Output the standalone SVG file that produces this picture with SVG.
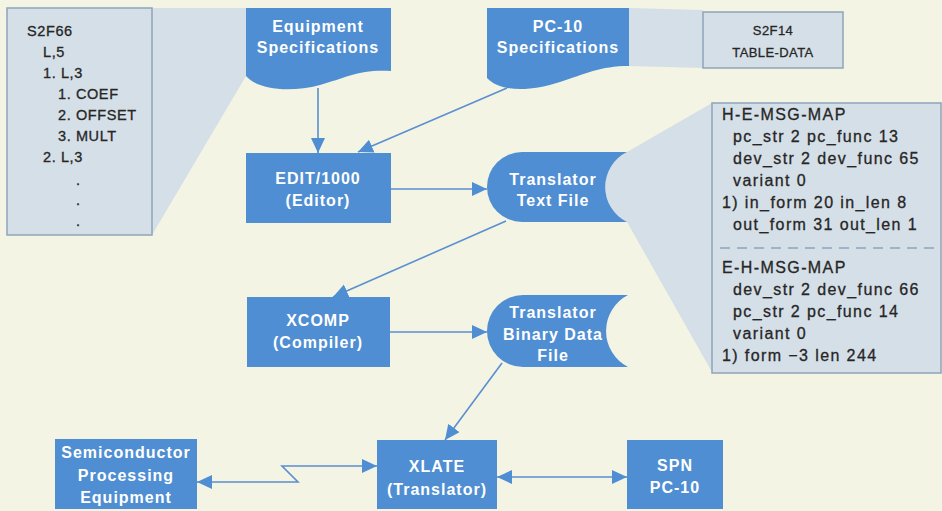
<svg xmlns="http://www.w3.org/2000/svg" width="942" height="511" viewBox="0 0 942 511">
<style>
.bg{fill:#f3f4e4}
.blue{fill:#4f8ed2}
.lt{fill:#d5dfe7}
.panel{fill:#d5dfe7;stroke:#8fa4ba;stroke-width:1.5}
.wt{font-family:"Liberation Sans",Arial,sans-serif;font-weight:bold;font-size:16px;fill:#ffffff;text-anchor:middle;letter-spacing:1px}
.dk{font-family:"Liberation Sans",Arial,sans-serif;font-size:16px;fill:#262626;stroke:#262626;stroke-width:0.3;letter-spacing:1.4px}
.sm{font-size:14.5px;letter-spacing:0.6px}
.ctr{text-anchor:middle;font-size:13px;letter-spacing:0.4px}
.conn{stroke:#5a8fd0;stroke-width:1.6;fill:none}
</style>
<defs>
<marker id="ah" markerUnits="userSpaceOnUse" markerWidth="16" markerHeight="15" refX="15" refY="7" orient="auto-start-reverse">
<path d="M0,0 L15,7 L0,14 Z" fill="#4f8ed2"/>
</marker>
</defs>
<rect class="bg" x="0" y="0" width="942" height="511"/>

<g id="callouts">
<polygon class="lt" points="152,8 246,8 246,76 152,235"/>
<polygon class="lt" points="629,8 703,10 703,68 629,66"/>
<path class="lt" d="M627,152 A39,39 0 0 0 627,222 L712,372 L712,103 Z"/>
</g>

<g id="s2f66">
<rect class="panel" x="7" y="8" width="145" height="227"/>
<text class="dk sm" x="27" y="36">S2F66</text>
<text class="dk sm" x="43" y="57">L,5</text>
<text class="dk sm" x="43" y="78">1. L,3</text>
<text class="dk sm" x="58" y="99">1. COEF</text>
<text class="dk sm" x="58" y="120">2. OFFSET</text>
<text class="dk sm" x="58" y="141">3. MULT</text>
<text class="dk sm" x="43" y="162">2. L,3</text>
<text class="dk sm" x="76" y="185">.</text>
<text class="dk sm" x="76" y="205">.</text>
<text class="dk sm" x="76" y="226">.</text>
</g>

<g id="s2f14">
<rect class="panel" x="703" y="12" width="140" height="56"/>
<text class="dk ctr" x="773" y="35">S2F14</text>
<text class="dk ctr" x="773" y="57">TABLE-DATA</text>
</g>

<g id="msgmap">
<rect class="panel" x="712" y="103" width="229" height="270"/>
<text class="dk" x="722" y="120">H-E-MSG-MAP</text>
<text class="dk" x="733" y="142">pc_str 2 pc_func 13</text>
<text class="dk" x="733" y="164">dev_str 2 dev_func 65</text>
<text class="dk" x="733" y="186">variant 0</text>
<text class="dk" x="722" y="208">1) in_form 20 in_len 8</text>
<text class="dk" x="733" y="230">out_form 31 out_len 1</text>
<line x1="720" y1="248" x2="941" y2="248" stroke="#8fa4ba" stroke-width="1.5" stroke-dasharray="10,7"/>
<text class="dk" x="722" y="273">E-H-MSG-MAP</text>
<text class="dk" x="733" y="295">dev_str 2 dev_func 66</text>
<text class="dk" x="733" y="317">pc_str 2 pc_func 14</text>
<text class="dk" x="733" y="339">variant 0</text>
<text class="dk" x="722" y="361">1) form −3 len 244</text>
</g>

<g id="equipment-specs">
<path class="blue" d="M246,8 H391 V71 C360,69 345,78 320,85 C290,93 258,90 246,76 Z"/>
<text class="wt" x="318" y="32">Equipment</text>
<text class="wt" x="318" y="53">Specifications</text>
</g>

<g id="pc10-specs">
<path class="blue" d="M487,8 H629 V66 C600,66 585,74 560,82 C530,92 500,92 487,78 Z"/>
<text class="wt" x="558" y="32">PC-10</text>
<text class="wt" x="558" y="53">Specifications</text>
</g>

<g id="edit">
<rect class="blue" x="246" y="153" width="145" height="70"/>
<text class="wt" x="318" y="184">EDIT/1000</text>
<text class="wt" x="318" y="206">(Editor)</text>
</g>

<g id="text-file">
<path class="blue" d="M522,152 H627 A39,39 0 0 0 627,222 H522 A35,35 0 0 1 522,152 Z"/>
<text class="wt" x="553" y="185">Translator</text>
<text class="wt" x="553" y="206">Text File</text>
</g>

<g id="xcomp">
<rect class="blue" x="247" y="297" width="143" height="70"/>
<text class="wt" x="318" y="326">XCOMP</text>
<text class="wt" x="318" y="348">(Compiler)</text>
</g>

<g id="binary-file">
<path class="blue" d="M523,295 H628 A40.5,40.5 0 0 0 628,367 H523 A36,36 0 0 1 523,295 Z"/>
<text class="wt" x="553" y="318">Translator</text>
<text class="wt" x="553" y="340">Binary Data</text>
<text class="wt" x="553" y="361">File</text>
</g>

<g id="semi">
<rect class="blue" x="55" y="439" width="142" height="70"/>
<text class="wt" x="126" y="458">Semiconductor</text>
<text class="wt" x="126" y="481">Processing</text>
<text class="wt" x="126" y="503">Equipment</text>
</g>

<g id="xlate">
<rect class="blue" x="377" y="440" width="120" height="69"/>
<text class="wt" x="437" y="472">XLATE</text>
<text class="wt" x="437" y="495">(Translator)</text>
</g>

<g id="spn">
<rect class="blue" x="627" y="440" width="96" height="69"/>
<text class="wt" x="675" y="471">SPN</text>
<text class="wt" x="675" y="493">PC-10</text>
</g>

<g id="connectors">
<line class="conn" x1="318" y1="88" x2="318" y2="153" marker-end="url(#ah)"/>
<line class="conn" x1="507" y1="88" x2="358" y2="152" marker-end="url(#ah)"/>
<line class="conn" x1="391" y1="189" x2="487" y2="189" marker-end="url(#ah)"/>
<line class="conn" x1="506" y1="221" x2="333" y2="297" marker-end="url(#ah)"/>
<line class="conn" x1="390" y1="332" x2="487" y2="332" marker-end="url(#ah)"/>
<line class="conn" x1="502" y1="363" x2="445" y2="440" marker-end="url(#ah)"/>
<polyline class="conn" points="197,482 298,482 282,466 377,466" marker-start="url(#ah)" marker-end="url(#ah)"/>
<line class="conn" x1="497" y1="477" x2="627" y2="477" marker-start="url(#ah)" marker-end="url(#ah)"/>
</g>
</svg>
